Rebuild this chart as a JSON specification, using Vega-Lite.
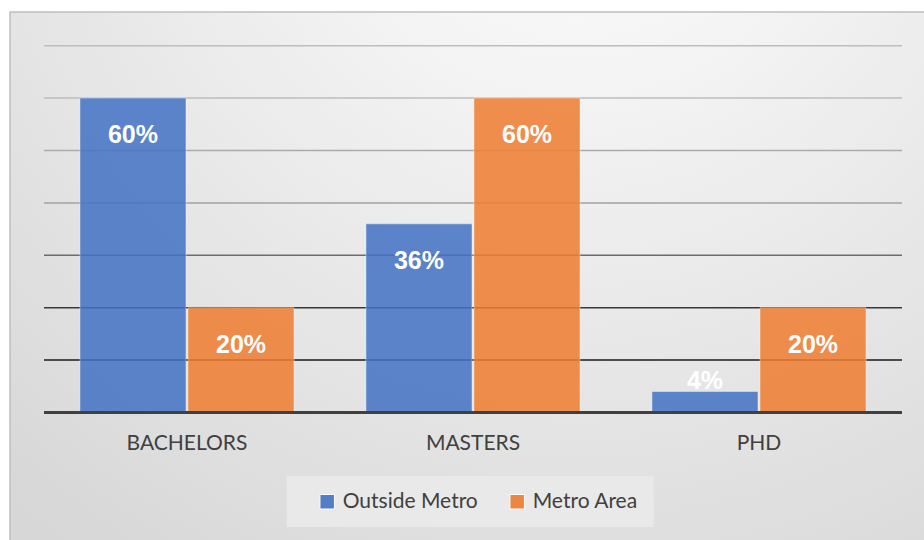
{
  "$schema": "https://vega.github.io/schema/vega-lite/v6.json",
  "width": 916,
  "height": 530,
  "autosize": {"type": "none"},
  "padding": {"left": 10, "top": 12, "right": 0, "bottom": 0},
  "background": "#ffffff",
  "config": {
    "view": {
      "stroke": "#bfbfbf",
      "strokeWidth": 1.5,
      "fill": {
        "gradient": "radial",
        "x1": 0.62, "y1": 0.02, "r1": 0,
        "x2": 0.62, "y2": 0.02, "r2": 0.95,
        "stops": [
          {"offset": 0, "color": "#ffffff"},
          {"offset": 1, "color": "#d7d7d7"}
        ]
      }
    }
  },
  "datasets": {
    "bars": [
      {"degree": "BACHELORS", "series": "Outside Metro", "value": 0.60},
      {"degree": "BACHELORS", "series": "Metro Area", "value": 0.20},
      {"degree": "MASTERS", "series": "Outside Metro", "value": 0.36},
      {"degree": "MASTERS", "series": "Metro Area", "value": 0.60},
      {"degree": "PHD", "series": "Outside Metro", "value": 0.04},
      {"degree": "PHD", "series": "Metro Area", "value": 0.20}
    ],
    "grid": [
      {"v": 0.1}, {"v": 0.2}, {"v": 0.3}, {"v": 0.4}, {"v": 0.5}, {"v": 0.6}, {"v": 0.7}
    ]
  },
  "layer": [
    {
      "data": {"name": "grid"},
      "mark": {"type": "rule", "strokeWidth": 1.5},
      "encoding": {
        "x": {"datum": "BACHELORS", "type": "nominal", "bandPosition": 0,
              "scale": {"domain": ["BACHELORS", "MASTERS", "PHD"], "paddingInner": 0, "paddingOuter": 0.1014, "align": 0.586},
              "axis": null},
        "x2": {"datum": "PHD", "bandPosition": 1},
        "y": {"field": "v", "type": "quantitative",
              "scale": {"domain": [-0.2471, 0.7643], "nice": false, "zero": false},
              "axis": null},
        "color": {
          "condition": [
            {"test": "datum.v >= 0.55", "value": "#bdbdbd"},
            {"test": "datum.v >= 0.45", "value": "#ababab"},
            {"test": "datum.v >= 0.35", "value": "#a2a2a2"},
            {"test": "datum.v >= 0.25", "value": "#6c6c6c"},
            {"test": "datum.v >= 0.15", "value": "#383838"}
          ],
          "value": "#1a1a1a"
        }
      }
    },
    {
      "data": {"name": "bars"},
      "mark": {"type": "bar", "fillOpacity": 0.86, "stroke": "#ffffff", "strokeOpacity": 0.4, "strokeWidth": 1},
      "encoding": {
        "x": {"field": "degree", "type": "nominal",
              "scale": {"domain": ["BACHELORS", "MASTERS", "PHD"], "paddingInner": 0, "paddingOuter": 0.1014, "align": 0.586},
              "axis": null},
        "xOffset": {"field": "series", "type": "nominal",
                    "scale": {"domain": ["Outside Metro", "Metro Area"], "paddingInner": 0.0185, "paddingOuter": 0.333}},
        "y": {"field": "value", "type": "quantitative",
              "scale": {"domain": [-0.2471, 0.7643], "nice": false, "zero": false},
              "axis": null},
        "y2": {"datum": 0},
        "color": {
          "field": "series", "type": "nominal",
          "scale": {"domain": ["Outside Metro", "Metro Area"], "range": ["#4472C4", "#ED7D31"]},
          "legend": {
            "title": null,
            "orient": "none",
            "legendX": 276.7,
            "legendY": 464,
            "direction": "horizontal",
            "fillColor": "#e9e9e9",
            "padding": 15,
            "symbolOffset": 15,
            "symbolType": "square",
            "symbolSize": 210,
            "symbolStrokeColor": "#ffffff",
            "symbolStrokeWidth": 1,
            "symbolOpacity": 0.9,
            "labelFont": "Lato",
            "labelFontSize": 21,
            "labelColor": "#404040",
            "labelOffset": 5,
            "labelLimit": 300,
            "columnPadding": 13
          }
        }
      }
    },
    {
      "data": {"values": [{}]},
      "mark": {"type": "rule", "color": "#404040", "strokeWidth": 3},
      "encoding": {
        "x": {"datum": "BACHELORS", "type": "nominal", "bandPosition": 0},
        "x2": {"datum": "PHD", "bandPosition": 1},
        "y": {"datum": 0}
      }
    },
    {
      "data": {"name": "bars"},
      "transform": [{"filter": "datum.value >= 0.1"}],
      "mark": {"type": "text", "font": "Liberation Sans", "fontWeight": "bold", "fontSize": 25, "color": "#ffffff", "baseline": "alphabetic", "dy": 45},
      "encoding": {
        "x": {"field": "degree", "type": "nominal"},
        "xOffset": {"field": "series", "type": "nominal"},
        "y": {"field": "value", "type": "quantitative"},
        "text": {"field": "value", "type": "quantitative", "format": ".0%"}
      }
    },
    {
      "data": {"name": "bars"},
      "transform": [{"filter": "datum.value < 0.1"}],
      "mark": {"type": "text", "font": "Liberation Sans", "fontWeight": "bold", "fontSize": 25, "color": "#ffffff", "baseline": "alphabetic", "dy": -3},
      "encoding": {
        "x": {"field": "degree", "type": "nominal"},
        "xOffset": {"field": "series", "type": "nominal"},
        "y": {"field": "value", "type": "quantitative"},
        "text": {"field": "value", "type": "quantitative", "format": ".0%"}
      }
    },
    {
      "data": {"name": "bars"},
      "transform": [{"aggregate": [{"op": "count", "as": "n"}], "groupby": ["degree"]}],
      "mark": {"type": "text", "font": "Lato", "fontSize": 21, "color": "#404040", "baseline": "middle"},
      "encoding": {
        "x": {"field": "degree", "type": "nominal"},
        "y": {"datum": -0.06},
        "text": {"field": "degree", "type": "nominal"}
      }
    }
  ]
}
